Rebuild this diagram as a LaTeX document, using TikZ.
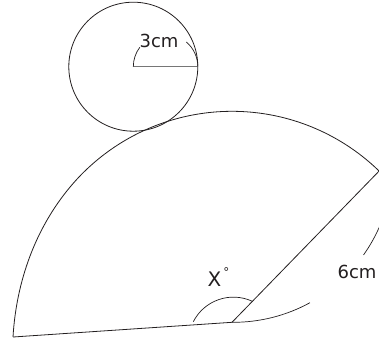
\documentclass[tikz,border=0pt]{standalone}
\usepackage{fontspec}
\setmainfont{DejaVu Sans}
\usetikzlibrary{calc}
\definecolor{ink}{RGB}{35,31,32}
\definecolor{rulegray}{RGB}{118,118,118}

\begin{document}
\begin{tikzpicture}[x=1pt,y=1pt,
    edge/.style={draw=ink,line width=0.8pt},
    bracket/.style={draw=ink,line width=0.7pt},
    lbl/.style={font=\fontsize{18}{20}\selectfont,text=ink,inner sep=0pt}]
  \useasboundingbox (0,0) rectangle (379,340);
  \clip (0,0) rectangle (379,340);

  % small circle with its radius
  \coordinate (cc) at (133.3,273.3);
  \draw[edge] (cc) circle[radius=64.5];
  \draw[draw=rulegray,line width=1.6pt] (cc) -- ++(64.5,0) coordinate (ce);
  \draw[bracket] (cc) arc[start angle=180,end angle=143,radius=32.25];
  \draw[bracket] (ce) arc[start angle=0,end angle=50,radius=32.25];
  \node[lbl] (r3) at (159,299.5) {3cm};

  % sector
  \coordinate (P) at (232,17.7);
  \coordinate (L) at (13,3);
  \coordinate (R) at ($(P)+(45.8:211)$);
  \draw[edge] (L) -- (P) -- (R)
    arc[start angle=45.8,end angle=140,radius=211]
    .. controls +(230:55) and +(86.6:55) .. (L);

  % angle mark
  \coordinate (xa) at (193.3,18.3);
  \draw[bracket] (xa) arc[start angle=153,end angle=65,radius=45];
  \node[lbl,font=\fontsize{20}{22}\selectfont,anchor=base west] (ang) at (207.5,53.3)
    {X\hspace{2pt}\raisebox{10pt}{\fontsize{12}{12}\selectfont °}};

  % length of the radius
  \draw[bracket] (P) arc[start angle=-90.5,end angle=-61.3,radius=159.4];
  \draw[bracket] (363.5,85) arc[start angle=-35.3,end angle=-15,radius=159.4];
  \node[lbl] (r6) at (357,68.3) {6cm};
\end{tikzpicture}
\end{document}
